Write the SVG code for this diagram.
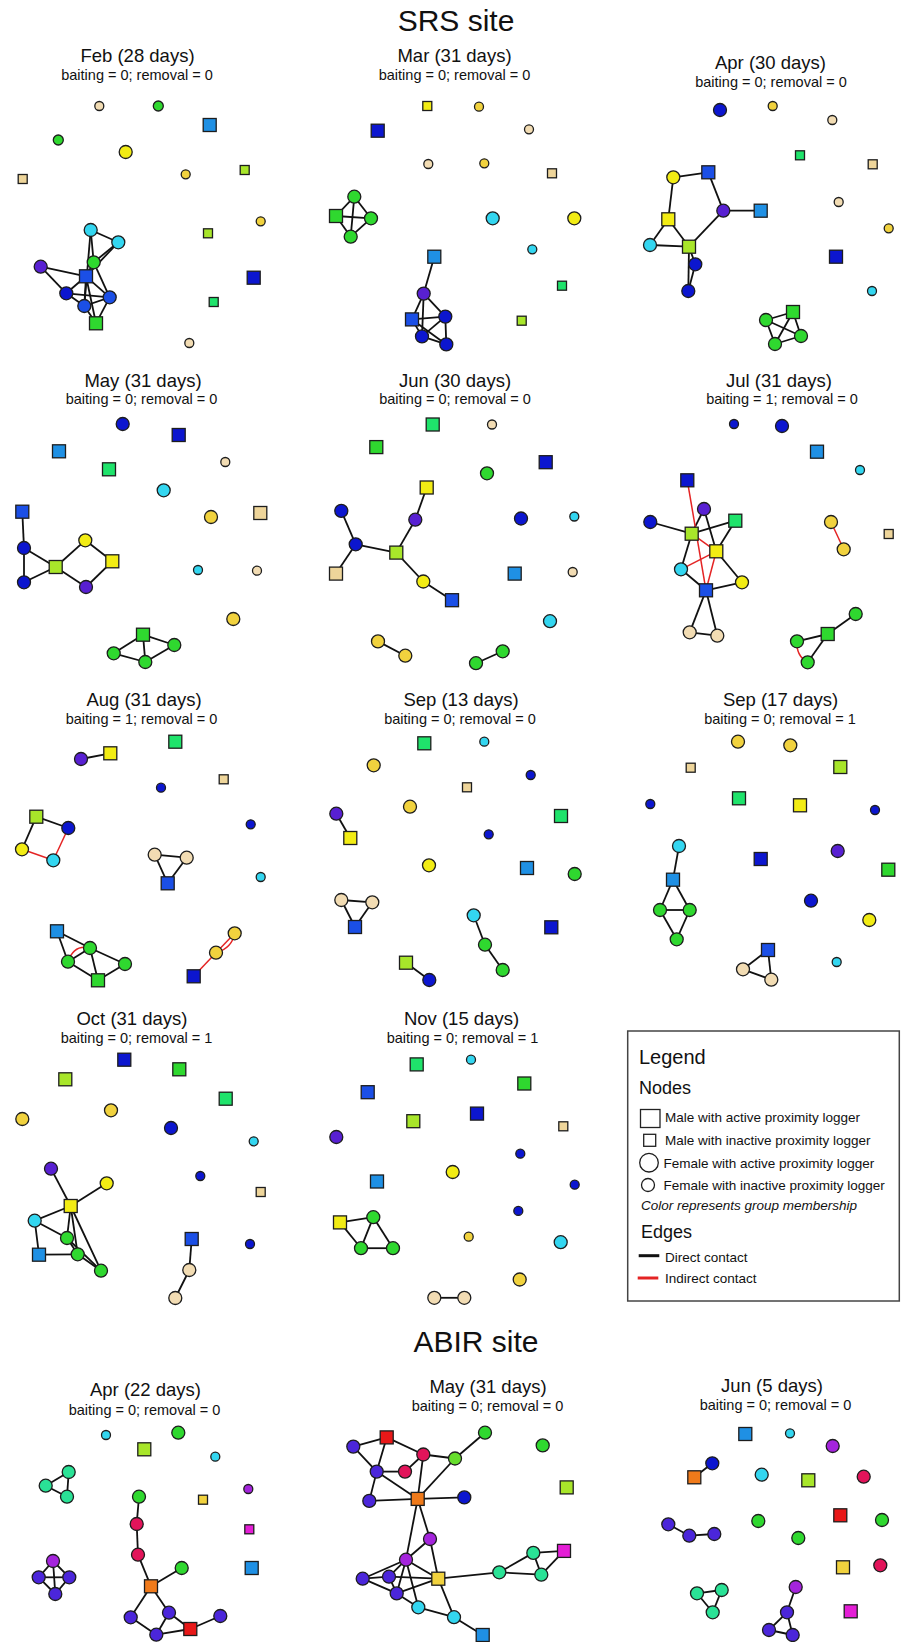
<svg xmlns="http://www.w3.org/2000/svg" width="903" height="1642" viewBox="0 0 903 1642">
<style>
text{font-family:"Liberation Sans",Arial,sans-serif;fill:#111}
.site{font-size:30px;text-anchor:middle}
.pt{font-size:18.5px;text-anchor:middle}
.ps{font-size:14.5px;text-anchor:middle}
.lg{font-size:13.5px}
circle,rect{stroke:#1d1d1d;stroke-width:1.3}
.bg{fill:#fff;stroke:none}
.e{stroke:#111;stroke-width:1.8;fill:none}
.r{stroke:#E42424;stroke-width:1.5;fill:none}
.tn{fill:#F2DCB3}.gd{fill:#F1D23E}.yl{fill:#F2EC14}.yg{fill:#A8E62A}.gr{fill:#2FD82F}.sg{fill:#1FE36B}
.cy{fill:#33D6F0}.db{fill:#1F90E4}.rb{fill:#1B4FE6}.bl{fill:#0C16CF}.pu{fill:#5820D2}
.in{fill:#4B26DA}.vi{fill:#A424DC}.cr{fill:#E2145A}.rd{fill:#E81818}.or{fill:#F07A1A}.mg{fill:#E41ED6}.tq{fill:#2AE296}
rect.tn{fill:#EED59A}
</style>
<rect class="bg" x="0" y="0" width="903" height="1642"/>
<text class="site" x="456" y="31">SRS site</text>
<text class="site" x="476" y="1352">ABIR site</text>
<g id="titles">
<text class="pt" x="137.5" y="62">Feb (28 days)</text><text class="ps" x="137" y="80">baiting = 0; removal = 0</text>
<text class="pt" x="454.5" y="62">Mar (31 days)</text><text class="ps" x="454.5" y="80">baiting = 0; removal = 0</text>
<text class="pt" x="770.5" y="69">Apr (30 days)</text><text class="ps" x="771" y="86.5">baiting = 0; removal = 0</text>
<text class="pt" x="143" y="386.5">May (31 days)</text><text class="ps" x="141.5" y="404">baiting = 0; removal = 0</text>
<text class="pt" x="455" y="386.5">Jun (30 days)</text><text class="ps" x="455" y="404">baiting = 0; removal = 0</text>
<text class="pt" x="779" y="386.5">Jul (31 days)</text><text class="ps" x="782" y="404">baiting = 1; removal = 0</text>
<text class="pt" x="144" y="706">Aug (31 days)</text><text class="ps" x="141.5" y="724">baiting = 1; removal = 0</text>
<text class="pt" x="461" y="706">Sep (13 days)</text><text class="ps" x="460" y="724">baiting = 0; removal = 0</text>
<text class="pt" x="780.5" y="706">Sep (17 days)</text><text class="ps" x="780" y="724">baiting = 0; removal = 1</text>
<text class="pt" x="132" y="1025">Oct (31 days)</text><text class="ps" x="136.5" y="1043">baiting = 0; removal = 1</text>
<text class="pt" x="461.5" y="1025">Nov (15 days)</text><text class="ps" x="462.5" y="1043">baiting = 0; removal = 1</text>
<text class="pt" x="145.5" y="1396">Apr (22 days)</text><text class="ps" x="144.5" y="1415">baiting = 0; removal = 0</text>
<text class="pt" x="488" y="1393">May (31 days)</text><text class="ps" x="487.5" y="1411">baiting = 0; removal = 0</text>
<text class="pt" x="772" y="1392">Jun (5 days)</text><text class="ps" x="775.5" y="1410">baiting = 0; removal = 0</text>
</g>
<g id="connectors">
<!-- Feb -->
<line class="e" x1="90.7" y1="230" x2="118.3" y2="242.3"/><line class="e" x1="90.7" y1="230" x2="93.7" y2="262.3"/><line class="e" x1="90.7" y1="230" x2="84.3" y2="306"/><line class="e" x1="118.3" y1="242.3" x2="93.7" y2="262.3"/><line class="e" x1="118.3" y1="242.3" x2="86" y2="276.3"/><line class="e" x1="93.7" y1="262.3" x2="86" y2="276.3"/><line class="e" x1="93.7" y1="262.3" x2="109.7" y2="297.3"/><line class="e" x1="40.7" y1="266.7" x2="86" y2="276.3"/><line class="e" x1="40.7" y1="266.7" x2="66.3" y2="293.3"/><line class="e" x1="86" y1="276.3" x2="66.3" y2="293.3"/><line class="e" x1="86" y1="276.3" x2="109.7" y2="297.3"/><line class="e" x1="86" y1="276.3" x2="84.3" y2="306"/><line class="e" x1="86" y1="276.3" x2="96" y2="323.3"/><line class="e" x1="66.3" y1="293.3" x2="109.7" y2="297.3"/><line class="e" x1="66.3" y1="293.3" x2="84.3" y2="306"/><line class="e" x1="109.7" y1="297.3" x2="84.3" y2="306"/><line class="e" x1="109.7" y1="297.3" x2="96" y2="323.3"/><line class="e" x1="84.3" y1="306" x2="96" y2="323.3"/>
<!-- Mar -->
<line class="e" x1="336" y1="216" x2="354.3" y2="196.7"/><line class="e" x1="336" y1="216" x2="371" y2="218.3"/><line class="e" x1="336" y1="216" x2="350.7" y2="236.7"/><line class="e" x1="354.3" y1="196.7" x2="371" y2="218.3"/><line class="e" x1="354.3" y1="196.7" x2="350.7" y2="236.7"/><line class="e" x1="371" y1="218.3" x2="350.7" y2="236.7"/>
<line class="e" x1="434.3" y1="256.7" x2="423.7" y2="293.6"/><line class="e" x1="423.7" y1="293.6" x2="412" y2="319.4"/><line class="e" x1="423.7" y1="293.6" x2="445.3" y2="316.6"/><line class="e" x1="423.7" y1="293.6" x2="422" y2="336.4"/><line class="e" x1="412" y1="319.4" x2="445.3" y2="316.6"/><line class="e" x1="412" y1="319.4" x2="422" y2="336.4"/><line class="e" x1="412" y1="319.4" x2="446.3" y2="344.4"/><line class="e" x1="445.3" y1="316.6" x2="422" y2="336.4"/><line class="e" x1="445.3" y1="316.6" x2="446.3" y2="344.4"/><line class="e" x1="422" y1="336.4" x2="446.3" y2="344.4"/>
<!-- Apr -->
<line class="e" x1="673.3" y1="177.3" x2="708.3" y2="172.3"/><line class="e" x1="708.3" y1="172.3" x2="723.3" y2="210.7"/><line class="e" x1="723.3" y1="210.7" x2="760.7" y2="210.7"/><line class="e" x1="673.3" y1="177.3" x2="668.3" y2="219.3"/><line class="e" x1="668.3" y1="219.3" x2="650" y2="245"/><line class="e" x1="668.3" y1="219.3" x2="689" y2="246.7"/><line class="e" x1="650" y1="245" x2="689" y2="246.7"/><line class="e" x1="723.3" y1="210.7" x2="689" y2="246.7"/><line class="e" x1="689" y1="246.7" x2="695.3" y2="264.3"/><line class="e" x1="689" y1="246.7" x2="688.3" y2="291"/><line class="e" x1="695.3" y1="264.3" x2="688.3" y2="291"/>
<line class="e" x1="766" y1="320" x2="793" y2="312"/><line class="e" x1="766" y1="320" x2="801" y2="336"/><line class="e" x1="766" y1="320" x2="775" y2="344"/><line class="e" x1="793" y1="312" x2="801" y2="336"/><line class="e" x1="793" y1="312" x2="775" y2="344"/><line class="e" x1="801" y1="336" x2="775" y2="344"/>
<!-- May -->
<line class="e" x1="22.3" y1="511.7" x2="24" y2="548"/><line class="e" x1="24" y1="548" x2="24" y2="582.3"/><line class="e" x1="24" y1="548" x2="55.7" y2="567"/><line class="e" x1="24" y1="582.3" x2="55.7" y2="567"/><line class="e" x1="55.7" y1="567" x2="85.3" y2="540.3"/><line class="e" x1="85.3" y1="540.3" x2="112.3" y2="561.3"/><line class="e" x1="55.7" y1="567" x2="86" y2="587"/><line class="e" x1="86" y1="587" x2="112.3" y2="561.3"/>
<line class="e" x1="143" y1="634.7" x2="113.7" y2="653.3"/><line class="e" x1="143" y1="634.7" x2="174.3" y2="645"/><line class="e" x1="143" y1="634.7" x2="145.3" y2="662"/><line class="e" x1="113.7" y1="653.3" x2="145.3" y2="662"/><line class="e" x1="174.3" y1="645" x2="145.3" y2="662"/>
<!-- Jun -->
<line class="e" x1="341.3" y1="510.9" x2="355.7" y2="544.3"/><line class="e" x1="355.7" y1="544.3" x2="336" y2="573.6"/><line class="e" x1="355.7" y1="544.3" x2="396.3" y2="552.6"/><line class="e" x1="396.3" y1="552.6" x2="415.3" y2="519.7"/><line class="e" x1="415.3" y1="519.7" x2="426.7" y2="487.5"/><line class="e" x1="396.3" y1="552.6" x2="423.3" y2="581.5"/><line class="e" x1="423.3" y1="581.5" x2="452" y2="600.2"/><line class="e" x1="378" y1="641.4" x2="405.3" y2="655.7"/><line class="e" x1="476" y1="663.2" x2="502.7" y2="651.3"/>
<!-- Jul -->
<line class="e" x1="650.3" y1="522" x2="691.7" y2="533.7"/><line class="e" x1="691.7" y1="533.7" x2="704" y2="509"/><line class="e" x1="704" y1="509" x2="716.3" y2="551.3"/><line class="e" x1="691.7" y1="533.7" x2="735.3" y2="520.7"/><line class="e" x1="735.3" y1="520.7" x2="716.3" y2="551.3"/><line class="e" x1="691.7" y1="533.7" x2="681" y2="569.3"/><line class="e" x1="716.3" y1="551.3" x2="742" y2="582.3"/><line class="e" x1="681" y1="569.3" x2="706" y2="590.3"/><line class="e" x1="742" y1="582.3" x2="706" y2="590.3"/><line class="e" x1="706" y1="590.3" x2="689.7" y2="632.3"/><line class="e" x1="706" y1="590.3" x2="717.3" y2="635.7"/><line class="e" x1="689.7" y1="632.3" x2="717.3" y2="635.7"/>
<line class="r" x1="687.3" y1="480.3" x2="706" y2="590.3"/><line class="r" x1="691.7" y1="533.7" x2="716.3" y2="551.3"/><line class="r" x1="681" y1="569.3" x2="716.3" y2="551.3"/><line class="r" x1="716.3" y1="551.3" x2="706" y2="590.3"/><line class="r" x1="831" y1="522" x2="843.7" y2="549.3"/>
<line class="e" x1="855.7" y1="614" x2="827.7" y2="634"/><line class="e" x1="827.7" y1="634" x2="797" y2="641.3"/><line class="e" x1="827.7" y1="634" x2="807.7" y2="662.3"/><path class="r" d="M797,641.3 Q796,656 807.7,662.3"/>
<!-- Aug -->
<line class="e" x1="81" y1="759" x2="110.3" y2="753.3"/><line class="e" x1="36.3" y1="816.7" x2="68.3" y2="828"/><line class="e" x1="36.3" y1="816.7" x2="22" y2="849.3"/><line class="r" x1="68.3" y1="828" x2="53.3" y2="860.3"/><line class="r" x1="22" y1="849.3" x2="53.3" y2="860.3"/>
<line class="e" x1="154.7" y1="854.7" x2="186.7" y2="857.7"/><line class="e" x1="154.7" y1="854.7" x2="167.7" y2="883.3"/><line class="e" x1="186.7" y1="857.7" x2="167.7" y2="883.3"/>
<line class="e" x1="57" y1="931.3" x2="90" y2="948"/><line class="e" x1="57" y1="931.3" x2="68" y2="961.7"/><line class="e" x1="90" y1="948" x2="68" y2="961.7"/><path class="r" d="M90,948 Q74,944 68,961.7"/><line class="e" x1="90" y1="948" x2="125" y2="964"/><line class="e" x1="90" y1="948" x2="98" y2="980.3"/><line class="e" x1="68" y1="961.7" x2="98" y2="980.3"/><line class="e" x1="125" y1="964" x2="98" y2="980.3"/>
<line class="r" x1="193.7" y1="976.3" x2="216" y2="952.7"/><line class="r" x1="216" y1="952.7" x2="234.7" y2="933.3"/><path class="r" d="M216,952.7 Q232,948 234.7,933.3"/>
<!-- Sep 13 -->
<line class="e" x1="336.3" y1="813.7" x2="350.3" y2="838"/><line class="e" x1="341.3" y1="900" x2="372.3" y2="902.3"/><line class="e" x1="341.3" y1="900" x2="355" y2="927"/><line class="e" x1="372.3" y1="902.3" x2="355" y2="927"/><line class="e" x1="473.7" y1="915.3" x2="485" y2="944.7"/><line class="e" x1="485" y1="944.7" x2="502.7" y2="970"/><line class="e" x1="406" y1="962.7" x2="429.3" y2="980"/>
<!-- Sep 17 -->
<line class="e" x1="679" y1="846" x2="673" y2="879.7"/><line class="e" x1="673" y1="879.7" x2="660" y2="910"/><line class="e" x1="673" y1="879.7" x2="689.7" y2="910"/><line class="e" x1="660" y1="910" x2="689.7" y2="910"/><line class="e" x1="660" y1="910" x2="676.7" y2="939.3"/><line class="e" x1="689.7" y1="910" x2="676.7" y2="939.3"/><line class="e" x1="768" y1="950" x2="743" y2="969.3"/><line class="e" x1="768" y1="950" x2="771.3" y2="979.7"/><line class="e" x1="743" y1="969.3" x2="771.3" y2="979.7"/>
<!-- Oct -->
<line class="e" x1="51" y1="1168.7" x2="70.7" y2="1206"/><line class="e" x1="106.7" y1="1183.3" x2="70.7" y2="1206"/><line class="e" x1="70.7" y1="1206" x2="34.7" y2="1220.7"/><line class="e" x1="70.7" y1="1206" x2="67" y2="1238"/><line class="e" x1="70.7" y1="1206" x2="77.7" y2="1254.3"/><line class="e" x1="70.7" y1="1206" x2="101" y2="1270.7"/><line class="e" x1="34.7" y1="1220.7" x2="67" y2="1238"/><line class="e" x1="34.7" y1="1220.7" x2="39" y2="1254.7"/><line class="e" x1="39" y1="1254.7" x2="77.7" y2="1254.3"/><line class="e" x1="67" y1="1238" x2="77.7" y2="1254.3"/><line class="e" x1="67" y1="1238" x2="101" y2="1270.7"/><line class="e" x1="77.7" y1="1254.3" x2="101" y2="1270.7"/>
<line class="e" x1="191.7" y1="1239" x2="189.3" y2="1270"/><line class="e" x1="189.3" y1="1270" x2="175.3" y2="1298"/>
<!-- Nov -->
<line class="e" x1="340" y1="1222.4" x2="373.3" y2="1217.2"/><line class="e" x1="340" y1="1222.4" x2="361" y2="1248.2"/><line class="e" x1="373.3" y1="1217.2" x2="361" y2="1248.2"/><line class="e" x1="373.3" y1="1217.2" x2="393" y2="1248.2"/><line class="e" x1="361" y1="1248.2" x2="393" y2="1248.2"/><line class="e" x1="434.3" y1="1297.8" x2="464.3" y2="1297.8"/>
<!-- ABIR Apr -->
<line class="e" x1="68.7" y1="1472" x2="45.7" y2="1485.7"/><line class="e" x1="68.7" y1="1472" x2="67" y2="1496.7"/><line class="e" x1="45.7" y1="1485.7" x2="67" y2="1496.7"/>
<line class="e" x1="139" y1="1496.7" x2="136.7" y2="1524"/><line class="e" x1="136.7" y1="1524" x2="138" y2="1554.7"/><line class="e" x1="138" y1="1554.7" x2="151" y2="1586.3"/><line class="e" x1="181.7" y1="1568" x2="151" y2="1586.3"/><line class="e" x1="151" y1="1586.3" x2="130.7" y2="1617.3"/><line class="e" x1="151" y1="1586.3" x2="169" y2="1612.7"/><line class="e" x1="130.7" y1="1617.3" x2="156.3" y2="1634.7"/><line class="e" x1="169" y1="1612.7" x2="156.3" y2="1634.7"/><line class="e" x1="169" y1="1612.7" x2="190.3" y2="1629"/><line class="e" x1="156.3" y1="1634.7" x2="190.3" y2="1629"/><line class="e" x1="190.3" y1="1629" x2="220.3" y2="1616"/>
<line class="e" x1="53" y1="1561" x2="38.7" y2="1577.3"/><line class="e" x1="53" y1="1561" x2="69.3" y2="1577.3"/><line class="e" x1="53" y1="1561" x2="55.3" y2="1594"/><line class="e" x1="38.7" y1="1577.3" x2="69.3" y2="1577.3"/><line class="e" x1="38.7" y1="1577.3" x2="55.3" y2="1594"/><line class="e" x1="69.3" y1="1577.3" x2="55.3" y2="1594"/>
<!-- ABIR May -->
<line class="e" x1="353.3" y1="1446.6" x2="386.7" y2="1437.4"/><line class="e" x1="353.3" y1="1446.6" x2="376.7" y2="1471.6"/><line class="e" x1="386.7" y1="1437.4" x2="376.7" y2="1471.6"/><line class="e" x1="386.7" y1="1437.4" x2="423.3" y2="1454.5"/><line class="e" x1="376.7" y1="1471.6" x2="405" y2="1471.6"/><line class="e" x1="376.7" y1="1471.6" x2="369.3" y2="1500.9"/><line class="e" x1="376.7" y1="1471.6" x2="417.7" y2="1498.9"/><line class="e" x1="405" y1="1471.6" x2="423.3" y2="1454.5"/><line class="e" x1="423.3" y1="1454.5" x2="455" y2="1458.5"/><line class="e" x1="423.3" y1="1454.5" x2="417.7" y2="1498.9"/><line class="e" x1="455" y1="1458.5" x2="485" y2="1432.7"/><line class="e" x1="455" y1="1458.5" x2="417.7" y2="1498.9"/><line class="e" x1="369.3" y1="1500.9" x2="417.7" y2="1498.9"/><line class="e" x1="417.7" y1="1498.9" x2="464.3" y2="1497.4"/><line class="e" x1="417.7" y1="1498.9" x2="406" y2="1559.7"/><line class="e" x1="417.7" y1="1498.9" x2="430" y2="1539"/><line class="e" x1="430" y1="1539" x2="406" y2="1559.7"/><line class="e" x1="430" y1="1539" x2="438.3" y2="1578.7"/><line class="e" x1="406" y1="1559.7" x2="438.3" y2="1578.7"/><line class="e" x1="406" y1="1559.7" x2="362.7" y2="1578.7"/><line class="e" x1="406" y1="1559.7" x2="389" y2="1576.7"/><line class="e" x1="406" y1="1559.7" x2="396.7" y2="1593.4"/><line class="e" x1="406" y1="1559.7" x2="418.3" y2="1607.3"/><line class="e" x1="362.7" y1="1578.7" x2="389" y2="1576.7"/><line class="e" x1="362.7" y1="1578.7" x2="396.7" y2="1593.4"/><line class="e" x1="389" y1="1576.7" x2="438.3" y2="1578.7"/><line class="e" x1="389" y1="1576.7" x2="396.7" y2="1593.4"/><line class="e" x1="396.7" y1="1593.4" x2="438.3" y2="1578.7"/><line class="e" x1="396.7" y1="1593.4" x2="418.3" y2="1607.3"/><line class="e" x1="418.3" y1="1607.3" x2="454" y2="1617.2"/><line class="e" x1="438.3" y1="1578.7" x2="454" y2="1617.2"/><line class="e" x1="454" y1="1617.2" x2="482.7" y2="1635"/><line class="e" x1="438.3" y1="1578.7" x2="499.3" y2="1572.3"/><line class="e" x1="499.3" y1="1572.3" x2="533.3" y2="1552.9"/><line class="e" x1="499.3" y1="1572.3" x2="541.3" y2="1574.7"/><line class="e" x1="533.3" y1="1552.9" x2="541.3" y2="1574.7"/><line class="e" x1="533.3" y1="1552.9" x2="564" y2="1550.9"/><line class="e" x1="564" y1="1550.9" x2="541.3" y2="1574.7"/>
<!-- ABIR Jun -->
<line class="e" x1="712.3" y1="1463.3" x2="694.3" y2="1477.3"/><line class="e" x1="668.3" y1="1524.3" x2="689.3" y2="1535.7"/><line class="e" x1="689.3" y1="1535.7" x2="714.3" y2="1534"/><line class="e" x1="697" y1="1593.3" x2="721.7" y2="1590"/><line class="e" x1="697" y1="1593.3" x2="712.7" y2="1612.3"/><line class="e" x1="721.7" y1="1590" x2="712.7" y2="1612.3"/><line class="e" x1="795.7" y1="1587" x2="787" y2="1612.3"/><line class="e" x1="787" y1="1612.3" x2="769" y2="1630"/><line class="e" x1="787" y1="1612.3" x2="792.7" y2="1635"/><line class="e" x1="769" y1="1630" x2="792.7" y2="1635"/>
</g>
<g id="feb">
<g id="feb-1"><circle class="tn" cx="99.3" cy="106" r="4.5"/></g>
<g id="feb-2"><circle class="gr" cx="158.3" cy="106" r="5"/></g>
<g id="feb-3"><rect class="db" x="203.2" y="118.5" width="13" height="13"/></g>
<g id="feb-4"><circle class="gr" cx="58.3" cy="140" r="5"/></g>
<g id="feb-5"><circle class="yl" cx="125.7" cy="152" r="6.5"/></g>
<g id="feb-6"><rect class="tn" x="18.2" y="174.5" width="9" height="9"/></g>
<g id="feb-7"><circle class="gd" cx="185.7" cy="174.3" r="4.5"/></g>
<g id="feb-8"><rect class="yg" x="240.2" y="165.5" width="9" height="9"/></g>
<g id="feb-9"><circle class="gd" cx="260.7" cy="221.3" r="4.5"/></g>
<g id="feb-10"><rect class="yg" x="203.5" y="228.8" width="9" height="9"/></g>
<g id="feb-11"><rect class="bl" x="247.2" y="271.2" width="13" height="13"/></g>
<g id="feb-12"><rect class="sg" x="209.2" y="297.5" width="9" height="9"/></g>
<g id="feb-13"><circle class="tn" cx="189.3" cy="343" r="4.5"/></g>
<g id="feb-14"><circle class="cy" cx="90.7" cy="230" r="6.5"/></g>
<g id="feb-15"><circle class="cy" cx="118.3" cy="242.3" r="6.5"/></g>
<g id="feb-16"><circle class="gr" cx="93.7" cy="262.3" r="6.5"/></g>
<g id="feb-17"><circle class="pu" cx="40.7" cy="266.7" r="6.5"/></g>
<g id="feb-18"><rect class="rb" x="79.5" y="269.8" width="13" height="13"/></g>
<g id="feb-19"><circle class="bl" cx="66.3" cy="293.3" r="6.5"/></g>
<g id="feb-20"><circle class="rb" cx="109.7" cy="297.3" r="6.5"/></g>
<g id="feb-21"><circle class="rb" cx="84.3" cy="306" r="6.5"/></g>
<g id="feb-22"><rect class="gr" x="89.5" y="316.8" width="13" height="13"/></g>
</g>
<g id="mar">
<g id="mar-1"><rect class="yl" x="422.8" y="101.5" width="9" height="9"/></g>
<g id="mar-2"><rect class="bl" x="371.2" y="124.2" width="13" height="13"/></g>
<g id="mar-3"><circle class="tn" cx="428.3" cy="164" r="4.5"/></g>
<g id="mar-4"><circle class="gd" cx="479" cy="106.7" r="4.5"/></g>
<g id="mar-5"><circle class="tn" cx="529" cy="129.3" r="4.5"/></g>
<g id="mar-6"><circle class="gd" cx="484.3" cy="163.3" r="4.5"/></g>
<g id="mar-7"><rect class="tn" x="547.5" y="168.8" width="9" height="9"/></g>
<g id="mar-8"><circle class="cy" cx="492.7" cy="218.3" r="6.5"/></g>
<g id="mar-9"><circle class="yl" cx="574.3" cy="218.3" r="6.5"/></g>
<g id="mar-10"><circle class="cy" cx="532.3" cy="249.3" r="4.5"/></g>
<g id="mar-11"><rect class="sg" x="557.5" y="281.2" width="9" height="9"/></g>
<g id="mar-12"><rect class="yg" x="517.2" y="316.2" width="9" height="9"/></g>
<g id="mar-13"><rect class="gr" x="329.5" y="209.5" width="13" height="13"/></g>
<g id="mar-14"><circle class="gr" cx="354.3" cy="196.7" r="6.5"/></g>
<g id="mar-15"><circle class="gr" cx="371" cy="218.3" r="6.5"/></g>
<g id="mar-16"><circle class="gr" cx="350.7" cy="236.7" r="6.5"/></g>
<g id="mar-17"><rect class="db" x="427.8" y="250.2" width="13" height="13"/></g>
<g id="mar-18"><circle class="pu" cx="423.7" cy="293.6" r="6.5"/></g>
<g id="mar-19"><rect class="rb" x="405.5" y="312.9" width="13" height="13"/></g>
<g id="mar-20"><circle class="bl" cx="445.3" cy="316.6" r="6.5"/></g>
<g id="mar-21"><circle class="bl" cx="422" cy="336.4" r="6.5"/></g>
<g id="mar-22"><circle class="bl" cx="446.3" cy="344.4" r="6.5"/></g>
</g>
<g id="apr">
<g id="apr-1"><circle class="bl" cx="720" cy="110" r="6.5"/></g>
<g id="apr-2"><circle class="gd" cx="772.7" cy="106" r="4.5"/></g>
<g id="apr-3"><circle class="tn" cx="832.3" cy="120" r="4.5"/></g>
<g id="apr-4"><rect class="sg" x="795.5" y="150.8" width="9" height="9"/></g>
<g id="apr-5"><rect class="tn" x="868.2" y="159.8" width="9" height="9"/></g>
<g id="apr-6"><circle class="tn" cx="838.7" cy="202" r="4.5"/></g>
<g id="apr-7"><circle class="gd" cx="888.7" cy="228.3" r="4.5"/></g>
<g id="apr-8"><rect class="bl" x="829.5" y="250.2" width="13" height="13"/></g>
<g id="apr-9"><circle class="cy" cx="872" cy="291" r="4.5"/></g>
<g id="apr-10"><circle class="yl" cx="673.3" cy="177.3" r="6.5"/></g>
<g id="apr-11"><rect class="rb" x="701.8" y="165.8" width="13" height="13"/></g>
<g id="apr-12"><circle class="pu" cx="723.3" cy="210.7" r="6.5"/></g>
<g id="apr-13"><rect class="db" x="754.2" y="204.2" width="13" height="13"/></g>
<g id="apr-14"><rect class="yl" x="661.8" y="212.8" width="13" height="13"/></g>
<g id="apr-15"><circle class="cy" cx="650" cy="245" r="6.5"/></g>
<g id="apr-16"><rect class="yg" x="682.5" y="240.2" width="13" height="13"/></g>
<g id="apr-17"><circle class="bl" cx="695.3" cy="264.3" r="6.5"/></g>
<g id="apr-18"><circle class="bl" cx="688.3" cy="291" r="6.5"/></g>
<g id="apr-19"><circle class="gr" cx="766" cy="320" r="6.5"/></g>
<g id="apr-20"><rect class="gr" x="786.5" y="305.5" width="13" height="13"/></g>
<g id="apr-21"><circle class="gr" cx="801" cy="336" r="6.5"/></g>
<g id="apr-22"><circle class="gr" cx="775" cy="344" r="6.5"/></g>
</g>
<g id="may">
<g id="may-1"><circle class="bl" cx="122.7" cy="424" r="6.5"/></g>
<g id="may-2"><rect class="bl" x="172.2" y="428.5" width="13" height="13"/></g>
<g id="may-3"><rect class="db" x="52.5" y="444.8" width="13" height="13"/></g>
<g id="may-4"><rect class="sg" x="102.5" y="462.8" width="13" height="13"/></g>
<g id="may-5"><circle class="tn" cx="225.3" cy="462" r="4.5"/></g>
<g id="may-6"><circle class="cy" cx="163.7" cy="490.3" r="6.5"/></g>
<g id="may-7"><circle class="gd" cx="211" cy="517" r="6.5"/></g>
<g id="may-8"><rect class="tn" x="253.8" y="506.5" width="13" height="13"/></g>
<g id="may-9"><circle class="cy" cx="198" cy="570" r="4.5"/></g>
<g id="may-10"><circle class="tn" cx="257" cy="570.7" r="4.5"/></g>
<g id="may-11"><circle class="gd" cx="233.3" cy="619" r="6.5"/></g>
<g id="may-12"><rect class="rb" x="15.8" y="505.2" width="13" height="13"/></g>
<g id="may-13"><circle class="bl" cx="24" cy="548" r="6.5"/></g>
<g id="may-14"><circle class="bl" cx="24" cy="582.3" r="6.5"/></g>
<g id="may-15"><rect class="yg" x="49.2" y="560.5" width="13" height="13"/></g>
<g id="may-16"><circle class="yl" cx="85.3" cy="540.3" r="6.5"/></g>
<g id="may-17"><rect class="yl" x="105.8" y="554.8" width="13" height="13"/></g>
<g id="may-18"><circle class="pu" cx="86" cy="587" r="6.5"/></g>
<g id="may-19"><rect class="gr" x="136.5" y="628.2" width="13" height="13"/></g>
<g id="may-20"><circle class="gr" cx="113.7" cy="653.3" r="6.5"/></g>
<g id="may-21"><circle class="gr" cx="174.3" cy="645" r="6.5"/></g>
<g id="may-22"><circle class="gr" cx="145.3" cy="662" r="6.5"/></g>
</g>
<g id="jun">
<g id="jun-1"><rect class="sg" x="426.2" y="418" width="13" height="13"/></g>
<g id="jun-2"><circle class="tn" cx="492" cy="424.5" r="4.5"/></g>
<g id="jun-3"><rect class="gr" x="369.8" y="440.6" width="13" height="13"/></g>
<g id="jun-4"><rect class="bl" x="539.2" y="455.7" width="13" height="13"/></g>
<g id="jun-5"><circle class="gr" cx="487" cy="473.3" r="6.5"/></g>
<g id="jun-6"><rect class="yl" x="420.2" y="481" width="13" height="13"/></g>
<g id="jun-7"><circle class="bl" cx="341.3" cy="510.9" r="6.5"/></g>
<g id="jun-8"><circle class="pu" cx="415.3" cy="519.7" r="6.5"/></g>
<g id="jun-9"><circle class="bl" cx="521" cy="518.5" r="6.5"/></g>
<g id="jun-10"><circle class="cy" cx="574.3" cy="516.5" r="4.5"/></g>
<g id="jun-11"><circle class="bl" cx="355.7" cy="544.3" r="6.5"/></g>
<g id="jun-12"><rect class="yg" x="389.8" y="546.1" width="13" height="13"/></g>
<g id="jun-13"><rect class="tn" x="329.5" y="567.1" width="13" height="13"/></g>
<g id="jun-14"><rect class="db" x="508.2" y="567.1" width="13" height="13"/></g>
<g id="jun-15"><circle class="tn" cx="572.7" cy="572" r="4.5"/></g>
<g id="jun-16"><circle class="yl" cx="423.3" cy="581.5" r="6.5"/></g>
<g id="jun-17"><rect class="rb" x="445.5" y="593.7" width="13" height="13"/></g>
<g id="jun-18"><circle class="cy" cx="550" cy="621.2" r="6.5"/></g>
<g id="jun-19"><circle class="gd" cx="378" cy="641.4" r="6.5"/></g>
<g id="jun-20"><circle class="gd" cx="405.3" cy="655.7" r="6.5"/></g>
<g id="jun-21"><circle class="gr" cx="476" cy="663.2" r="6.5"/></g>
<g id="jun-22"><circle class="gr" cx="502.7" cy="651.3" r="6.5"/></g>
</g>
<g id="jul">
<g id="jul-1"><circle class="bl" cx="734" cy="424" r="4.5"/></g>
<g id="jul-2"><circle class="bl" cx="782" cy="426" r="6.5"/></g>
<g id="jul-3"><rect class="db" x="810.5" y="445.2" width="13" height="13"/></g>
<g id="jul-4"><circle class="cy" cx="860" cy="470" r="4.5"/></g>
<g id="jul-5"><circle class="gd" cx="831" cy="522" r="6.5"/></g>
<g id="jul-6"><circle class="gd" cx="843.7" cy="549.3" r="6.5"/></g>
<g id="jul-7"><rect class="tn" x="884.2" y="529.5" width="9" height="9"/></g>
<g id="jul-8"><rect class="bl" x="680.8" y="473.8" width="13" height="13"/></g>
<g id="jul-9"><circle class="pu" cx="704" cy="509" r="6.5"/></g>
<g id="jul-10"><circle class="bl" cx="650.3" cy="522" r="6.5"/></g>
<g id="jul-11"><rect class="sg" x="728.8" y="514.2" width="13" height="13"/></g>
<g id="jul-12"><rect class="yg" x="685.2" y="527.2" width="13" height="13"/></g>
<g id="jul-13"><rect class="yl" x="709.8" y="544.8" width="13" height="13"/></g>
<g id="jul-14"><circle class="cy" cx="681" cy="569.3" r="6.5"/></g>
<g id="jul-15"><circle class="yl" cx="742" cy="582.3" r="6.5"/></g>
<g id="jul-16"><rect class="rb" x="699.5" y="583.8" width="13" height="13"/></g>
<g id="jul-17"><circle class="tn" cx="689.7" cy="632.3" r="6.5"/></g>
<g id="jul-18"><circle class="tn" cx="717.3" cy="635.7" r="6.5"/></g>
<g id="jul-19"><circle class="gr" cx="855.7" cy="614" r="6.5"/></g>
<g id="jul-20"><rect class="gr" x="821.2" y="627.5" width="13" height="13"/></g>
<g id="jul-21"><circle class="gr" cx="797" cy="641.3" r="6.5"/></g>
<g id="jul-22"><circle class="gr" cx="807.7" cy="662.3" r="6.5"/></g>
</g>
<g id="aug">
<g id="aug-1"><circle class="pu" cx="81" cy="759" r="6.5"/></g>
<g id="aug-2"><rect class="yl" x="103.8" y="746.8" width="13" height="13"/></g>
<g id="aug-3"><rect class="sg" x="168.8" y="735.2" width="13" height="13"/></g>
<g id="aug-4"><circle class="bl" cx="161" cy="787.7" r="4.5"/></g>
<g id="aug-5"><rect class="tn" x="219.2" y="774.8" width="9" height="9"/></g>
<g id="aug-6"><rect class="yg" x="29.8" y="810.2" width="13" height="13"/></g>
<g id="aug-7"><circle class="bl" cx="68.3" cy="828" r="6.5"/></g>
<g id="aug-8"><circle class="yl" cx="22" cy="849.3" r="6.5"/></g>
<g id="aug-9"><circle class="cy" cx="53.3" cy="860.3" r="6.5"/></g>
<g id="aug-10"><circle class="bl" cx="250.7" cy="824.3" r="4.5"/></g>
<g id="aug-11"><circle class="tn" cx="154.7" cy="854.7" r="6.5"/></g>
<g id="aug-12"><circle class="tn" cx="186.7" cy="857.7" r="6.5"/></g>
<g id="aug-13"><rect class="rb" x="161.2" y="876.8" width="13" height="13"/></g>
<g id="aug-14"><circle class="cy" cx="260.7" cy="877" r="4.5"/></g>
<g id="aug-15"><rect class="db" x="50.5" y="924.8" width="13" height="13"/></g>
<g id="aug-16"><circle class="gr" cx="90" cy="948" r="6.5"/></g>
<g id="aug-17"><circle class="gr" cx="68" cy="961.7" r="6.5"/></g>
<g id="aug-18"><circle class="gr" cx="125" cy="964" r="6.5"/></g>
<g id="aug-19"><rect class="gr" x="91.5" y="973.8" width="13" height="13"/></g>
<g id="aug-20"><rect class="bl" x="187.2" y="969.8" width="13" height="13"/></g>
<g id="aug-21"><circle class="gd" cx="216" cy="952.7" r="6.5"/></g>
<g id="aug-22"><circle class="gd" cx="234.7" cy="933.3" r="6.5"/></g>
</g>
<g id="sep13">
<g id="sep13-1"><rect class="sg" x="417.8" y="736.8" width="13" height="13"/></g>
<g id="sep13-2"><circle class="cy" cx="484.3" cy="741.7" r="4.5"/></g>
<g id="sep13-3"><circle class="gd" cx="373.7" cy="765.3" r="6.5"/></g>
<g id="sep13-4"><circle class="bl" cx="530.7" cy="775" r="4.5"/></g>
<g id="sep13-5"><rect class="tn" x="462.5" y="782.8" width="9" height="9"/></g>
<g id="sep13-6"><circle class="pu" cx="336.3" cy="813.7" r="6.5"/></g>
<g id="sep13-7"><circle class="gd" cx="410" cy="806.7" r="6.5"/></g>
<g id="sep13-8"><rect class="yl" x="343.8" y="831.5" width="13" height="13"/></g>
<g id="sep13-9"><rect class="sg" x="554.5" y="809.5" width="13" height="13"/></g>
<g id="sep13-10"><circle class="bl" cx="488.7" cy="834.3" r="4.5"/></g>
<g id="sep13-11"><circle class="yl" cx="429" cy="865.3" r="6.5"/></g>
<g id="sep13-12"><rect class="db" x="520.5" y="861.5" width="13" height="13"/></g>
<g id="sep13-13"><circle class="gr" cx="574.7" cy="874" r="6.5"/></g>
<g id="sep13-14"><circle class="tn" cx="341.3" cy="900" r="6.5"/></g>
<g id="sep13-15"><circle class="tn" cx="372.3" cy="902.3" r="6.5"/></g>
<g id="sep13-16"><rect class="rb" x="348.5" y="920.5" width="13" height="13"/></g>
<g id="sep13-17"><circle class="cy" cx="473.7" cy="915.3" r="6.5"/></g>
<g id="sep13-18"><circle class="gr" cx="485" cy="944.7" r="6.5"/></g>
<g id="sep13-19"><circle class="gr" cx="502.7" cy="970" r="6.5"/></g>
<g id="sep13-20"><rect class="bl" x="544.8" y="920.8" width="13" height="13"/></g>
<g id="sep13-21"><rect class="yg" x="399.5" y="956.2" width="13" height="13"/></g>
<g id="sep13-22"><circle class="bl" cx="429.3" cy="980" r="6.5"/></g>
</g>
<g id="sep17">
<g id="sep17-1"><circle class="gd" cx="738" cy="741.7" r="6.5"/></g>
<g id="sep17-2"><circle class="gd" cx="790.3" cy="745.3" r="6.5"/></g>
<g id="sep17-3"><rect class="tn" x="686.2" y="763.2" width="9" height="9"/></g>
<g id="sep17-4"><rect class="yg" x="833.8" y="760.5" width="13" height="13"/></g>
<g id="sep17-5"><circle class="bl" cx="650.3" cy="804" r="4.5"/></g>
<g id="sep17-6"><rect class="sg" x="732.5" y="791.8" width="13" height="13"/></g>
<g id="sep17-7"><rect class="yl" x="793.5" y="798.8" width="13" height="13"/></g>
<g id="sep17-8"><circle class="bl" cx="875" cy="810" r="4.5"/></g>
<g id="sep17-9"><circle class="cy" cx="679" cy="846" r="6.5"/></g>
<g id="sep17-10"><rect class="bl" x="754.2" y="852.5" width="13" height="13"/></g>
<g id="sep17-11"><circle class="pu" cx="837.7" cy="851" r="6.5"/></g>
<g id="sep17-12"><rect class="gr" x="881.8" y="863.2" width="13" height="13"/></g>
<g id="sep17-13"><rect class="db" x="666.5" y="873.2" width="13" height="13"/></g>
<g id="sep17-14"><circle class="gr" cx="660" cy="910" r="6.5"/></g>
<g id="sep17-15"><circle class="gr" cx="689.7" cy="910" r="6.5"/></g>
<g id="sep17-16"><circle class="bl" cx="811" cy="900.7" r="6.5"/></g>
<g id="sep17-17"><circle class="yl" cx="869.3" cy="920" r="6.5"/></g>
<g id="sep17-18"><circle class="gr" cx="676.7" cy="939.3" r="6.5"/></g>
<g id="sep17-19"><rect class="rb" x="761.5" y="943.5" width="13" height="13"/></g>
<g id="sep17-20"><circle class="cy" cx="836.7" cy="962" r="4.5"/></g>
<g id="sep17-21"><circle class="tn" cx="743" cy="969.3" r="6.5"/></g>
<g id="sep17-22"><circle class="tn" cx="771.3" cy="979.7" r="6.5"/></g>
</g>
<g id="oct">
<g id="oct-1"><rect class="bl" x="117.8" y="1053.2" width="13" height="13"/></g>
<g id="oct-2"><rect class="yg" x="58.8" y="1072.8" width="13" height="13"/></g>
<g id="oct-3"><rect class="gr" x="172.8" y="1062.8" width="13" height="13"/></g>
<g id="oct-4"><rect class="sg" x="219.2" y="1092.2" width="13" height="13"/></g>
<g id="oct-5"><circle class="gd" cx="22.3" cy="1119" r="6.5"/></g>
<g id="oct-6"><circle class="gd" cx="111" cy="1110.3" r="6.5"/></g>
<g id="oct-7"><circle class="bl" cx="171" cy="1128" r="6.5"/></g>
<g id="oct-8"><circle class="cy" cx="253.7" cy="1141.3" r="4.5"/></g>
<g id="oct-9"><circle class="pu" cx="51" cy="1168.7" r="6.5"/></g>
<g id="oct-10"><circle class="yl" cx="106.7" cy="1183.3" r="6.5"/></g>
<g id="oct-11"><circle class="bl" cx="200.3" cy="1176" r="4.5"/></g>
<g id="oct-12"><rect class="tn" x="256.2" y="1187.5" width="9" height="9"/></g>
<g id="oct-13"><rect class="yl" x="64.2" y="1199.5" width="13" height="13"/></g>
<g id="oct-14"><circle class="cy" cx="34.7" cy="1220.7" r="6.5"/></g>
<g id="oct-15"><circle class="gr" cx="67" cy="1238" r="6.5"/></g>
<g id="oct-16"><rect class="db" x="32.5" y="1248.2" width="13" height="13"/></g>
<g id="oct-17"><circle class="gr" cx="77.7" cy="1254.3" r="6.5"/></g>
<g id="oct-18"><circle class="gr" cx="101" cy="1270.7" r="6.5"/></g>
<g id="oct-19"><rect class="rb" x="185.2" y="1232.5" width="13" height="13"/></g>
<g id="oct-20"><circle class="bl" cx="250" cy="1244" r="4.5"/></g>
<g id="oct-21"><circle class="tn" cx="189.3" cy="1270" r="6.5"/></g>
<g id="oct-22"><circle class="tn" cx="175.3" cy="1298" r="6.5"/></g>
</g>
<g id="nov">
<g id="nov-1"><rect class="sg" x="410.2" y="1057.9" width="13" height="13"/></g>
<g id="nov-2"><circle class="cy" cx="471" cy="1059.7" r="4.5"/></g>
<g id="nov-3"><rect class="gr" x="517.8" y="1077" width="13" height="13"/></g>
<g id="nov-4"><rect class="rb" x="361.2" y="1085.7" width="13" height="13"/></g>
<g id="nov-5"><rect class="yg" x="406.8" y="1114.7" width="13" height="13"/></g>
<g id="nov-6"><rect class="bl" x="470.5" y="1107.1" width="13" height="13"/></g>
<g id="nov-7"><rect class="tn" x="558.8" y="1121.8" width="9" height="9"/></g>
<g id="nov-8"><circle class="pu" cx="336.3" cy="1137" r="6.5"/></g>
<g id="nov-9"><circle class="bl" cx="520.3" cy="1153.7" r="4.5"/></g>
<g id="nov-10"><circle class="yl" cx="452.7" cy="1172" r="6.5"/></g>
<g id="nov-11"><rect class="db" x="370.5" y="1175" width="13" height="13"/></g>
<g id="nov-12"><circle class="bl" cx="574.7" cy="1184.7" r="4.5"/></g>
<g id="nov-13"><circle class="bl" cx="518.3" cy="1210.9" r="4.5"/></g>
<g id="nov-14"><rect class="yl" x="333.5" y="1215.9" width="13" height="13"/></g>
<g id="nov-15"><circle class="gr" cx="373.3" cy="1217.2" r="6.5"/></g>
<g id="nov-16"><circle class="gr" cx="361" cy="1248.2" r="6.5"/></g>
<g id="nov-17"><circle class="gr" cx="393" cy="1248.2" r="6.5"/></g>
<g id="nov-18"><circle class="gd" cx="468.7" cy="1236.7" r="4.5"/></g>
<g id="nov-19"><circle class="cy" cx="560.7" cy="1242.2" r="6.5"/></g>
<g id="nov-20"><circle class="gd" cx="519.7" cy="1279.5" r="6.5"/></g>
<g id="nov-21"><circle class="tn" cx="434.3" cy="1297.8" r="6.5"/></g>
<g id="nov-22"><circle class="tn" cx="464.3" cy="1297.8" r="6.5"/></g>
</g>
<g id="legend">
<rect x="627.7" y="1031" width="271.6" height="270" style="fill:#fff;stroke:#444;stroke-width:1.5"/>
<text x="639" y="1063.5" style="font-size:20px">Legend</text>
<text x="639" y="1094" style="font-size:18px">Nodes</text>
<rect x="640.5" y="1109.5" width="19.5" height="18" style="fill:#fff;stroke:#222;stroke-width:1.3"/>
<text class="lg" x="665" y="1121.5">Male with active proximity logger</text>
<rect x="643.7" y="1134.3" width="12" height="12" style="fill:#fff;stroke:#222;stroke-width:1.3"/>
<text class="lg" x="665" y="1145">Male with inactive proximity logger</text>
<circle cx="649" cy="1162.7" r="9.3" style="fill:#fff"/>
<text class="lg" x="663.5" y="1167.5">Female with active proximity logger</text>
<circle cx="648" cy="1185" r="6.5" style="fill:#fff"/>
<text class="lg" x="663.5" y="1190">Female with inactive proximity logger</text>
<text class="lg" x="641" y="1210" style="font-style:italic">Color represents group membership</text>
<text x="641" y="1237.5" style="font-size:18px">Edges</text>
<line x1="638.7" y1="1255.7" x2="659.3" y2="1255.7" style="stroke:#111;stroke-width:3"/>
<text class="lg" x="665" y="1262">Direct contact</text>
<line x1="637.7" y1="1278" x2="658.3" y2="1278" style="stroke:#E42424;stroke-width:3"/>
<text class="lg" x="665" y="1282.5">Indirect contact</text>
</g>
<g id="abir-apr">
<g id="aapr-1"><circle class="cy" cx="106" cy="1435" r="4.5"/></g>
<g id="aapr-2"><circle class="gr" cx="178.3" cy="1432.7" r="6.5"/></g>
<g id="aapr-3"><rect class="yg" x="137.8" y="1442.8" width="13" height="13"/></g>
<g id="aapr-4"><circle class="cy" cx="215.3" cy="1456.7" r="4.5"/></g>
<g id="aapr-5"><circle class="tq" cx="68.7" cy="1472" r="6.5"/></g>
<g id="aapr-6"><circle class="tq" cx="45.7" cy="1485.7" r="6.5"/></g>
<g id="aapr-7"><circle class="tq" cx="67" cy="1496.7" r="6.5"/></g>
<g id="aapr-8"><circle class="gr" cx="139" cy="1496.7" r="6.5"/></g>
<g id="aapr-9"><rect class="gd" x="198.5" y="1495.2" width="9" height="9"/></g>
<g id="aapr-10"><circle class="vi" cx="248.3" cy="1489" r="4.5"/></g>
<g id="aapr-11"><circle class="cr" cx="136.7" cy="1524" r="6.5"/></g>
<g id="aapr-12"><rect class="mg" x="244.8" y="1524.8" width="9" height="9"/></g>
<g id="aapr-13"><circle class="cr" cx="138" cy="1554.7" r="6.5"/></g>
<g id="aapr-14"><circle class="gr" cx="181.7" cy="1568" r="6.5"/></g>
<g id="aapr-15"><rect class="db" x="245.2" y="1561.5" width="13" height="13"/></g>
<g id="aapr-16"><circle class="vi" cx="53" cy="1561" r="6.5"/></g>
<g id="aapr-17"><circle class="in" cx="38.7" cy="1577.3" r="6.5"/></g>
<g id="aapr-18"><circle class="in" cx="69.3" cy="1577.3" r="6.5"/></g>
<g id="aapr-19"><circle class="in" cx="55.3" cy="1594" r="6.5"/></g>
<g id="aapr-20"><rect class="or" x="144.5" y="1579.8" width="13" height="13"/></g>
<g id="aapr-21"><circle class="in" cx="130.7" cy="1617.3" r="6.5"/></g>
<g id="aapr-22"><circle class="in" cx="169" cy="1612.7" r="6.5"/></g>
<g id="aapr-23"><circle class="in" cx="156.3" cy="1634.7" r="6.5"/></g>
<g id="aapr-24"><rect class="rd" x="183.8" y="1622.5" width="13" height="13"/></g>
<g id="aapr-25"><circle class="in" cx="220.3" cy="1616" r="6.5"/></g>
</g>
<g id="abir-may">
<g id="amay-1"><circle class="in" cx="353.3" cy="1446.6" r="6.5"/></g>
<g id="amay-2"><rect class="rd" x="380.2" y="1430.9" width="13" height="13"/></g>
<g id="amay-3"><circle class="gr" cx="485" cy="1432.7" r="6.5"/></g>
<g id="amay-4"><circle class="gr" cx="542.7" cy="1445.4" r="6.5"/></g>
<g id="amay-5"><circle class="cr" cx="423.3" cy="1454.5" r="6.5"/></g>
<g id="amay-6"><circle class="gr" cx="455" cy="1458.5" r="6.5" style="fill:#66DE2C"/></g>
<g id="amay-7"><circle class="in" cx="376.7" cy="1471.6" r="6.5"/></g>
<g id="amay-8"><circle class="cr" cx="405" cy="1471.6" r="6.5"/></g>
<g id="amay-9"><rect class="yg" x="560.2" y="1480.9" width="13" height="13"/></g>
<g id="amay-10"><circle class="in" cx="369.3" cy="1500.9" r="6.5"/></g>
<g id="amay-11"><rect class="or" x="411.2" y="1492.4" width="13" height="13"/></g>
<g id="amay-12"><circle class="bl" cx="464.3" cy="1497.4" r="6.5"/></g>
<g id="amay-13"><circle class="vi" cx="430" cy="1539" r="6.5"/></g>
<g id="amay-14"><circle class="vi" cx="406" cy="1559.7" r="6.5"/></g>
<g id="amay-15"><circle class="tq" cx="533.3" cy="1552.9" r="6.5"/></g>
<g id="amay-16"><rect class="mg" x="557.5" y="1544.4" width="13" height="13"/></g>
<g id="amay-17"><circle class="in" cx="362.7" cy="1578.7" r="6.5"/></g>
<g id="amay-18"><circle class="in" cx="389" cy="1576.7" r="6.5"/></g>
<g id="amay-19"><rect class="gd" x="431.8" y="1572.2" width="13" height="13"/></g>
<g id="amay-20"><circle class="tq" cx="499.3" cy="1572.3" r="6.5"/></g>
<g id="amay-21"><circle class="tq" cx="541.3" cy="1574.7" r="6.5"/></g>
<g id="amay-22"><circle class="in" cx="396.7" cy="1593.4" r="6.5"/></g>
<g id="amay-23"><circle class="cy" cx="418.3" cy="1607.3" r="6.5"/></g>
<g id="amay-24"><circle class="cy" cx="454" cy="1617.2" r="6.5"/></g>
<g id="amay-25"><rect class="db" x="476.2" y="1628.5" width="13" height="13"/></g>
</g>
<g id="abir-jun">
<g id="ajun-1"><rect class="db" x="738.8" y="1427.5" width="13" height="13"/></g>
<g id="ajun-2"><circle class="cy" cx="790" cy="1433.3" r="4.5"/></g>
<g id="ajun-3"><circle class="vi" cx="832.7" cy="1446" r="6.5"/></g>
<g id="ajun-4"><circle class="bl" cx="712.3" cy="1463.3" r="6.5"/></g>
<g id="ajun-5"><rect class="or" x="687.8" y="1470.8" width="13" height="13"/></g>
<g id="ajun-6"><circle class="cy" cx="761.7" cy="1474.7" r="6.5"/></g>
<g id="ajun-7"><rect class="yg" x="801.8" y="1473.8" width="13" height="13"/></g>
<g id="ajun-8"><circle class="cr" cx="863.7" cy="1476.7" r="6.5"/></g>
<g id="ajun-9"><rect class="rd" x="833.8" y="1508.8" width="13" height="13"/></g>
<g id="ajun-10"><circle class="gr" cx="758.3" cy="1521" r="6.5"/></g>
<g id="ajun-11"><circle class="gr" cx="882" cy="1520" r="6.5"/></g>
<g id="ajun-12"><circle class="gr" cx="798.3" cy="1538" r="6.5"/></g>
<g id="ajun-13"><circle class="in" cx="668.3" cy="1524.3" r="6.5"/></g>
<g id="ajun-14"><circle class="in" cx="689.3" cy="1535.7" r="6.5"/></g>
<g id="ajun-15"><circle class="in" cx="714.3" cy="1534" r="6.5"/></g>
<g id="ajun-16"><rect class="gd" x="836.5" y="1560.8" width="13" height="13"/></g>
<g id="ajun-17"><circle class="cr" cx="880.3" cy="1565.3" r="6.5"/></g>
<g id="ajun-18"><circle class="tq" cx="697" cy="1593.3" r="6.5"/></g>
<g id="ajun-19"><circle class="tq" cx="721.7" cy="1590" r="6.5"/></g>
<g id="ajun-20"><circle class="tq" cx="712.7" cy="1612.3" r="6.5"/></g>
<g id="ajun-21"><circle class="vi" cx="795.7" cy="1587" r="6.5"/></g>
<g id="ajun-22"><circle class="in" cx="787" cy="1612.3" r="6.5"/></g>
<g id="ajun-23"><circle class="in" cx="769" cy="1630" r="6.5"/></g>
<g id="ajun-24"><circle class="in" cx="792.7" cy="1635" r="6.5"/></g>
<g id="ajun-25"><rect class="mg" x="844.2" y="1604.8" width="13" height="13"/></g>
</g>
</svg>
